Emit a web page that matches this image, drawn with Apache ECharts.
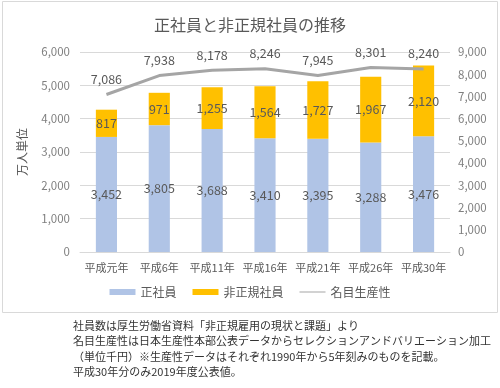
<!DOCTYPE html>
<html><head><meta charset="utf-8">
<script src="https://cdn.jsdelivr.net/npm/echarts@6/dist/echarts.min.js"></script>
<style>html,body{margin:0;padding:0;background:#fff}#c{width:500px;height:388px}</style>
</head><body><div id="c"></div>
<script>
const categories = ['平成元年','平成6年','平成11年','平成16年','平成21年','平成26年','平成30年'];
const regular = [3452,3805,3688,3410,3395,3288,3476];
const nonRegular = [817,971,1255,1564,1727,1967,2120];
const productivity = [7086,7938,8178,8246,7945,8301,8240];
const leftTicks = [0,6000,1000];
const rightTicks = [0,9000,1000];
const notes = ['社員数は厚生労働省資料「非正規雇用の現状と課題」より','名目生産性は日本生産性本部公表データからセレクションアンドバリエーション加工','（単位千円）※生産性データはそれぞれ1990年から5年刻みのものを記載。','平成30年分のみ2019年度公表値。'];
const F = '"Noto Sans CJK JP","Noto Sans",sans-serif';
const chart = echarts.init(document.getElementById('c'));
const fmt = v => v.toLocaleString('en-US');
chart.setOption({
  animation:false,
  textStyle:{fontFamily:F},
  title:{text:'正社員と非正規社員の推移',left:'center',top:12,textStyle:{fontFamily:F,fontSize:16,fontWeight:'normal',color:'#595959'}},
  grid:{left:80,right:50,top:52,bottom:136},
  legend:{bottom:85,itemGap:16,itemWidth:26,itemHeight:6,textStyle:{fontFamily:F,fontSize:12,color:'#595959'},
    data:[{name:'正社員',icon:'rect'},{name:'非正規社員',icon:'rect'},
      {name:'名目生産性',icon:'path://M0,0L0.01,0L0.01,0.01Z M0,2.4L26,2.4L26,3.6L0,3.6Z M0,6L0.01,6L0.01,5.99Z'}]},
  xAxis:{type:'category',data:categories,axisTick:{show:false},axisLine:{lineStyle:{color:'#d9d9d9'}},
    axisLabel:{interval:0,fontFamily:F,fontSize:11,color:'#595959',margin:10}},
  yAxis:[
    {type:'value',min:leftTicks[0],max:leftTicks[1],interval:leftTicks[2],name:'万人単位',nameLocation:'middle',nameGap:52,nameRotate:90,
     nameTextStyle:{fontFamily:F,fontSize:12,color:'#595959'},
     axisLabel:{fontFamily:F,fontSize:11.5,color:'#7f7f7f',formatter:fmt,margin:10},splitLine:{lineStyle:{color:'#d9d9d9'}}},
    {type:'value',min:rightTicks[0],max:rightTicks[1],interval:rightTicks[2],
     axisLabel:{fontFamily:F,fontSize:11.5,color:'#7f7f7f',formatter:fmt,margin:8},splitLine:{show:false}}
  ],
  series:[
    {name:'正社員',type:'bar',stack:'a',data:regular,barWidth:'40%',itemStyle:{color:'#b0c4e6'},
     label:{show:true,position:'inside',color:'#595959',fontSize:12.5,fontFamily:F,formatter:p=>fmt(p.value)}},
    {name:'非正規社員',type:'bar',stack:'a',data:nonRegular,itemStyle:{color:'#ffc000'},
     label:{show:true,position:'inside',color:'#595959',fontSize:12.5,fontFamily:F,formatter:p=>fmt(p.value)}},
    {name:'名目生産性',type:'line',yAxisIndex:1,data:productivity,symbol:'circle',symbolSize:0,showSymbol:true,
     lineStyle:{color:'#a5a5a5',width:3},itemStyle:{color:'#a5a5a5'},z:5,
     label:{show:true,position:'top',distance:9,color:'#595959',fontSize:12.5,fontFamily:F,formatter:p=>fmt(p.value)}}
  ],
  graphic:[
    {type:'rect',shape:{x:2.5,y:1.5,width:495,height:311},style:{fill:'none',stroke:'#d9d9d9',lineWidth:1},silent:true},
    ...notes.map((t,i)=>({type:'text',left:73,top:320+i*15.5,style:{text:t,fontFamily:F,fontSize:11,fill:'#333'}}))
  ]
});
</script></body></html>
